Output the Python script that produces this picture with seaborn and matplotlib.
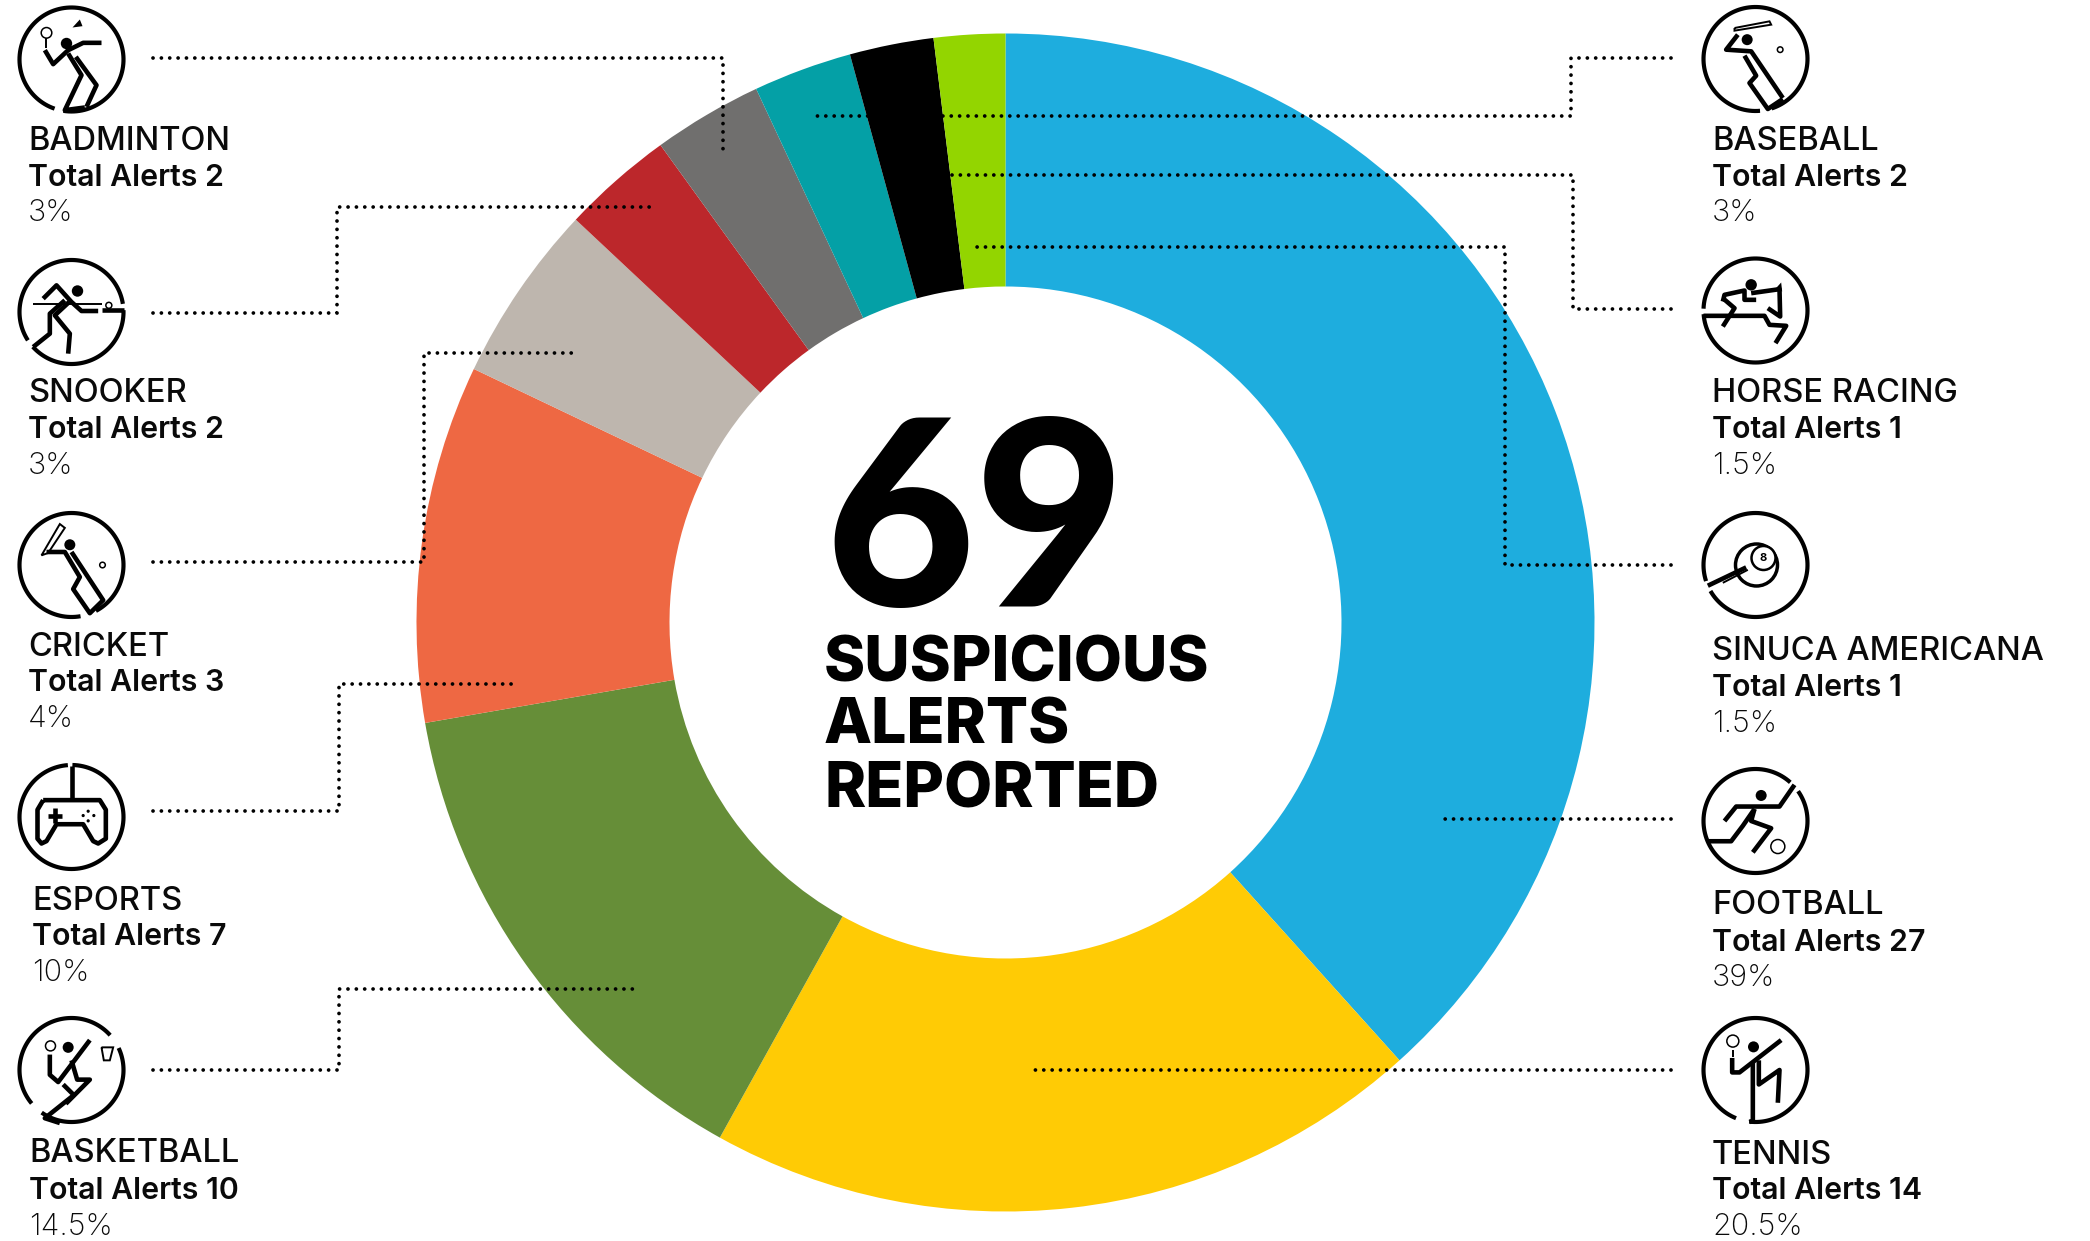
import numpy as np
import matplotlib
matplotlib.use("Agg")
import matplotlib.pyplot as plt
from matplotlib.patches import Circle
import seaborn as sns

# ---------- data ----------
sports = ["FOOTBALL", "TENNIS", "BASKETBALL", "ESPORTS", "CRICKET",
          "SNOOKER", "BADMINTON", "BASEBALL", "HORSE RACING", "SINUCA AMERICANA"]
total_alerts = [27, 14, 10, 7, 3, 2, 2, 2, 1, 1]
percent_labels = ["39%", "20.5%", "14.5%", "10%", "4%", "3%", "3%", "3%", "1.5%", "1.5%"]
# ring shares
ring_share = [38.3, 19.7, 14.2, 9.8, 4.9, 3.05, 3.0, 2.7, 2.3, 1.95]
slice_colors = ["#1EADDE", "#FFCB05", "#668E38", "#EE6843", "#BEB6AE",
                "#BC272B", "#706F6E", "#04A0A6", "#000000", "#93D500"]
center_number = "69"
center_lines = ["SUSPICIOUS", "ALERTS", "REPORTED"]

# ---------- layout (pixels of the 2090x1241 canvas) ----------
W, H = 2090, 1241
CX, CY, R_OUT, R_IN = 1005.5, 622.5, 589, 336
label_pos = {  # x, baselines
    "BADMINTON": (28, 149.5, 185.5, 221), "SNOOKER": (28, 402.5, 438, 474),
    "CRICKET": (28, 655.5, 691, 727), "ESPORTS": (32, 910, 945, 981),
    "BASKETBALL": (29, 1162.5, 1199, 1235),
    "BASEBALL": (1712, 149.5, 185.5, 221), "HORSE RACING": (1712, 402.5, 438, 474),
    "SINUCA AMERICANA": (1712, 659.5, 696, 732), "FOOTBALL": (1712, 914.5, 951, 986),
    "TENNIS": (1712, 1163.5, 1199, 1235),
}
S = 1.3333
leaders = [
    [(115, 43.5), (542, 43.5), (542, 116)],
    [(115, 235), (253, 235), (253, 155.5), (488, 155.5)],
    [(115, 421.5), (318, 421.5), (318, 264.5), (434, 264.5)],
    [(115, 608), (254, 608), (254, 513), (386, 513)],
    [(115, 802.5), (254, 802.5), (254, 742), (480, 742)],
    [(1253, 43.5), (1178, 43.5), (1178, 87), (608, 87)],
    [(1253, 232), (1180, 232), (1180, 131), (709, 131)],
    [(1253, 423.5), (1129, 423.5), (1129, 185), (733, 185)],
    [(1253, 614), (1081, 614)],
    [(1253, 802.5), (771, 802.5)],
]

sns.set_theme(style="white")
plt.rcParams["font.family"] = ["Inter", "Lato", "DejaVu Sans"]

fig = plt.figure(figsize=(W / 100, H / 100), dpi=100, facecolor="white")
ax = fig.add_axes([0, 0, 1, 1])
palette = sns.color_palette(slice_colors)

ax.pie(ring_share, colors=palette, startangle=-90, counterclock=True,
       center=(CX, CY), radius=R_OUT, frame=True,
       wedgeprops=dict(width=R_OUT - R_IN, linewidth=0))
ax.set_xlim(0, W)
ax.set_ylim(H, 0)
ax.set_aspect("equal")
ax.axis("off")

# leader lines
for pts in leaders:
    xs = [p[0] * S for p in pts]
    ys = [p[1] * S for p in pts]
    ax.plot(xs, ys, color="black", lw=2.7, linestyle=(0, (0.01, 2.22)),
            dash_capstyle="round", zorder=5)

# labels
for name, n, pct in zip(sports, total_alerts, percent_labels):
    x, b1, b2, b3 = label_pos[name]
    ax.text(x, b1, name, fontsize=23.5, fontweight="medium", color="#0a0a0a", va="baseline")
    ax.text(x, b2, f"Total Alerts {n}", fontsize=21.8, fontweight="semibold", color="#0a0a0a", va="baseline")
    ax.text(x, b3, pct, fontsize=22, fontweight="light", color="#0a0a0a", va="baseline")

# centre text
with plt.rc_context({"font.family": ["Lato", "DejaVu Sans"]}):
    ax.text(824, 606, center_number, fontsize=187, fontweight="black", color="black", va="baseline")
for line, b in zip(center_lines, (682, 744, 807)):
    ax.text(824, b, line, fontsize=45, fontweight="heavy", color="black", va="baseline")


# ---------- icons: local coordinates are measured in a zoomed crop ----------
def make_mapper(center, origin, sy):
    def m(pts):
        return [(center[0] + (x - origin[0]) / 3, center[1] + (y - origin[1]) / sy) for x, y in pts]
    return m


def icon(center, origin, sy, gaps, thick=(), thin=(), dots=(), rings=(), fills=()):
    m = make_mapper(center, origin, sy)
    gaps = sorted(gaps)
    for i, (a, b) in enumerate(gaps):
        nxt = gaps[(i + 1) % len(gaps)][0]
        if nxt <= b:
            nxt += 360
        t = np.radians(np.linspace(b, nxt, 120))
        ax.plot(center[0] + 52 * np.cos(t), center[1] + 52 * np.sin(t), color="black",
                lw=3.0, solid_capstyle="butt", zorder=6)
    for s in thick:
        p = m(s)
        ax.plot(*zip(*p), color="black", lw=3.3, solid_joinstyle="round", solid_capstyle="butt", zorder=6)
    for s in thin:
        p = m(s)
        ax.plot(*zip(*p), color="black", lw=1.4, solid_joinstyle="miter", solid_capstyle="butt", zorder=6)
    for (x, y, r) in dots:
        p = m([(x, y)])[0]
        ax.add_patch(Circle(p, r, fc="black", ec="none", zorder=6))
    for (x, y, r) in rings:
        p = m([(x, y)])[0]
        ax.add_patch(Circle(p, r, fc="none", ec="black", lw=1.1, zorder=6))
    for s in fills:
        ax.fill(*zip(*m(s)), color="black", lw=0, zorder=6)


Lx, Rx = 71.5, 1755.5
# badminton
icon((Lx, 59.5), (215, 178), 3, [(99, 109)],
     thick=[[(135, 150), (160, 192), (205, 150), (250, 128), (305, 128)],
            [(205, 160), (245, 225), (195, 330), (255, 322)],
            [(228, 170), (290, 255), (260, 320)]],
     thin=[[(137, 114), (137, 142)]], dots=[(200, 130, 5.7)], rings=[(140, 98, 5.3)],
     fills=[[(218, 82), (240, 58), (248, 78)]])
# snooker
icon((Lx, 312), (215, 935), 3, [(-9, -2), (138, 147)],
     thick=[[(130, 895), (170, 855), (215, 905), (245, 932), (295, 932)],
            [(195, 900), (150, 940), (150, 1000), (100, 1040)],
            [(208, 905), (165, 945), (210, 1000), (205, 1060)],
            [(305, 930), (372, 930)]],
     thin=[[(100, 912), (305, 912)]], dots=[(233, 872, 5.7)], rings=[(327, 915, 3)])
# cricket
icon((Lx, 565), (215, 155), 2.075, [(62, 80)],
     thick=[[(140, 128), (195, 128), (240, 180), (220, 205), (270, 255), (310, 228), (215, 128)]],
     thin=[[(125, 135), (180, 70), (195, 78), (145, 130), (125, 135)]],
     dots=[(210, 113, 5.5)], rings=[(308, 155, 2.8)])
# esports
icon((Lx, 817), (215, 680), 2.075, [(-94, -89)],
     thick=[[(215, 575), (215, 645)],
            [(130, 645), (300, 645), (318, 665), (318, 725), (295, 735), (280, 730), (250, 695),
             (170, 695), (140, 730), (125, 735), (113, 725), (113, 665), (130, 645)],
            [(145, 677), (185, 677)], [(165, 662), (165, 692)]],
     dots=[(265, 668, 1.6), (282, 677, 1.6), (265, 688, 1.6), (250, 677, 1.6)])
# basketball
icon((Lx, 1070), (215, 1210), 2.075, [(-42, -25), (125, 140)],
     thick=[[(150, 1178), (150, 1220), (175, 1235), (270, 1148)],
            [(215, 1190), (232, 1230), (270, 1230), (198, 1280)],
            [(190, 1240), (222, 1262), (135, 1310), (180, 1320)]],
     thin=[[(305, 1163), (340, 1163), (330, 1190), (312, 1190), (305, 1163)]],
     dots=[(205, 1163, 5.5)], rings=[(152, 1160, 5)])
# baseball
icon((Rx, 59), (198, 178), 3, [(72, 85)],
     thick=[[(145, 105), (110, 150), (185, 155), (280, 295)],
            [(165, 168), (200, 228), (180, 250), (235, 328), (280, 298)]],
     thin=[[(135, 85), (240, 65), (245, 75), (135, 93), (135, 85)]],
     dots=[(173, 120, 5.5)], rings=[(272, 150, 2.8)])
# horse racing
icon((Rx, 310.5), (198, 932), 3, [(176, 182)],
     thick=[[(100, 905), (105, 885), (165, 872), (165, 900), (200, 900)],
            [(100, 895), (135, 925), (100, 980)],
            [(185, 880), (270, 868), (272, 950), (235, 925)],
            [(42, 948), (225, 948), (240, 975), (290, 978), (258, 1030)]],
     dots=[(185, 855, 5.7)], fills=[[(255, 870), (275, 848), (278, 875)]])
# sinuca
ax.add_patch(Circle((Rx + 1, 565), 21, fc="none", ec="black", lw=2.5, zorder=6))
ax.add_patch(Circle((Rx + 8, 558), 12, fc="white", ec="black", lw=1.8, zorder=6))
ax.text(Rx + 8, 558, "8", fontsize=8, fontweight="bold", ha="center", va="center", color="black", zorder=7)
icon((Rx, 565), (198, 155), 2.075, [(150, 162)],
     thick=[[(55, 198), (170, 160)]],
     thin=[[(100, 192), (175, 165)]])
# football
icon((Rx, 821), (198, 690), 2.075, [(-48, -35)],
     thick=[[(105, 690), (140, 660), (270, 660), (315, 615)],
            [(195, 665), (160, 700), (125, 732), (55, 732)],
            [(195, 665), (185, 690), (245, 705), (190, 755)]],
     dots=[(215, 637, 5.5)], rings=[(265, 743, 7)])
# tennis
icon((Rx, 1070), (198, 1210), 2.075, [(97, 112)],
     thick=[[(128, 1185), (128, 1215), (150, 1215), (275, 1148)],
            [(190, 1195), (190, 1315), (180, 1318)],
            [(208, 1190), (208, 1240), (270, 1210), (265, 1278)]],
     thin=[[(130, 1168), (130, 1182)]],
     dots=[(192, 1162, 5.5)], rings=[(130, 1150, 6)])

fig.savefig("out.png", dpi=100, facecolor="white")
